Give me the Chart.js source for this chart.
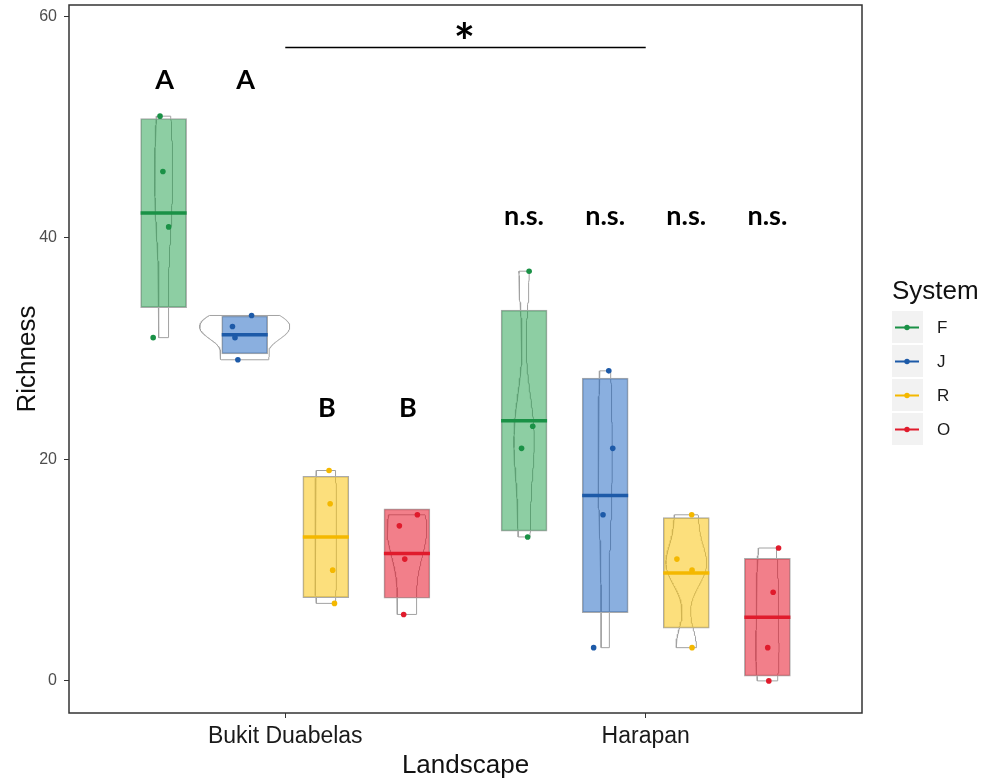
<!DOCTYPE html>
<html>
<head>
<meta charset="utf-8">
<script src="https://cdn.jsdelivr.net/npm/chart.js@4.4.0/dist/chart.umd.min.js"></script>
<style>
  html, body { margin: 0; padding: 0; background: #ffffff; }
  #wrap { width: 985px; height: 782px; }
</style>
</head>
<body>
<div id="wrap"><canvas id="c" width="985" height="782"></canvas></div>
<script>
// ---------------- data ----------------
const landscapes = ['Bukit Duabelas', 'Harapan'];
const systems = ['F', 'J', 'R', 'O'];
const systemColors = ['#1a9146', '#1d5aa8', '#f4b800', '#e01b2c'];
const systemFills = ['rgba(27,158,71,0.5)', 'rgba(22,96,192,0.5)', 'rgba(250,196,16,0.55)', 'rgba(232,22,42,0.55)'];

// richness per plot: [Bukit Duabelas, Harapan]
const richnessF = [[51, 46, 41, 31], [37, 23, 21, 13]];
const richnessJ = [[33, 32, 31, 29], [28, 21, 15, 3]];
const richnessR = [[19, 16, 10, 7], [15, 11, 10, 3]];
const richnessO = [[15, 14, 11, 6], [12, 8, 3, 0]];

// horizontal jitter of the plotted points (x units)
const jitterF = [[-0.010, -0.002, 0.014, -0.029], [0.014, 0.024, -0.007, 0.010]];
const jitterJ = [[0.019, -0.034, -0.027, -0.019], [0.010, 0.021, -0.006, -0.032]];
const jitterR = [[0.009, 0.012, 0.019, 0.024], [0.015, -0.026, 0.016, 0.016]];
const jitterO = [[0.029, -0.021, -0.006, -0.009], [0.031, 0.016, 0.001, 0.004]];

// box = mean +/- sd, line = mean
const meanF = [42.25, 23.50];
const meanJ = [31.25, 16.75];
const meanR = [13.00, 9.75];
const meanO = [11.50, 5.75];
const sdF = [8.54, 9.98];
const sdJ = [1.71, 10.59];
const sdR = [5.48, 4.99];
const sdO = [4.04, 5.32];

const yTickValues = [0, 20, 40, 60];

// significance labels
const lettersBD = ['A', 'A', 'B', 'B'];
const lettersBDy = [54.3, 54.3, 24.7, 24.7];
const lettersH = ['n.s.', 'n.s.', 'n.s.', 'n.s.'];
const lettersHy = [41.8, 41.8, 41.8, 41.8];
const sigStar = '*';
const sigStarY = 58.7;
const sigLineY = 57.25;

// ---------------- build ----------------
const richness = [richnessF, richnessJ, richnessR, richnessO];
const jitters = [jitterF, jitterJ, jitterR, jitterO];
const means = [meanF, meanJ, meanR, meanO];
const sds = [sdF, sdJ, sdR, sdO];
const DODGE = 0.225;
const VIOLIN_HALF = 0.125;
const slotX = (li, si) => li + 1 + (si - 1.5) * DODGE;

// gaussian kernel density (bw.nrd0), trimmed to the data range, like geom_violin
function quantile7(sorted, p) {
  const h = (sorted.length - 1) * p;
  const lo = Math.floor(h);
  return sorted[lo] + (h - lo) * ((sorted[lo + 1] ?? sorted[lo]) - sorted[lo]);
}
function kde(vals, n) {
  const s = [...vals].sort((a, b) => a - b);
  const m = s.reduce((a, b) => a + b, 0) / s.length;
  const sd = Math.sqrt(s.reduce((a, b) => a + (b - m) ** 2, 0) / (s.length - 1));
  const iqr = quantile7(s, 0.75) - quantile7(s, 0.25);
  const lo = Math.min(sd, iqr / 1.34);
  const bw = 0.9 * lo * Math.pow(s.length, -0.2);
  const out = [];
  for (let k = 0; k < n; k++) {
    const y = s[0] + (s[s.length - 1] - s[0]) * k / (n - 1);
    let d = 0;
    for (const v of s) { const z = (y - v) / bw; d += Math.exp(-0.5 * z * z) / Math.sqrt(2 * Math.PI); }
    out.push({ y, d: d / (s.length * bw) });
  }
  return out;
}
const dens = richness.map(r => r.map(v => kde(v, 120)));
let maxD = 0;
dens.forEach(a => a.forEach(g => g.forEach(p => { maxD = Math.max(maxD, p.d); })));

const datasets = [];
// points
systems.forEach((s, si) => {
  const data = [];
  richness[si].forEach((vals, li) => vals.forEach((v, k) => data.push({ x: slotX(li, si) + jitters[si][li][k], y: v })));
  datasets.push({
    type: 'scatter', label: s, data, order: 0, isPoints: true,
    pointRadius: 2.8, pointHoverRadius: 2.8, pointBackgroundColor: systemColors[si], pointBorderWidth: 0,
    color: systemColors[si]
  });
});
// mean lines
systems.forEach((s, si) => {
  datasets.push({
    type: 'scatter', label: s + ' mean', order: 1,
    data: means[si].map((m, li) => ({ x: slotX(li, si), y: m })),
    pointStyle: 'line', pointRadius: 23, pointHoverRadius: 23, pointBorderWidth: 3.5, pointBorderColor: systemColors[si]
  });
});
// boxes
systems.forEach((s, si) => {
  datasets.push({
    type: 'bar', label: s + ' box', order: 2, grouped: false,
    data: means[si].map((m, li) => ({ x: slotX(li, si), y: [m - sds[si][li], m + sds[si][li]] })),
    backgroundColor: systemFills[si], borderColor: '#ababab', borderWidth: 1, borderSkipped: false,
    barThickness: 46, maxBarThickness: 46
  });
});
// violins
systems.forEach((s, si) => {
  dens[si].forEach((g, li) => {
    const cx = slotX(li, si);
    const right = g.map(p => ({ x: cx + p.d / maxD * VIOLIN_HALF, y: p.y }));
    const left = g.slice().reverse().map(p => ({ x: cx - p.d / maxD * VIOLIN_HALF, y: p.y }));
    const poly = right.concat(left);
    poly.push(right[0]);
    datasets.push({
      type: 'scatter', label: s + ' violin', order: 3, data: poly, showLine: true,
      pointRadius: 0, pointHoverRadius: 0, borderColor: '#a2a2a2', borderWidth: 1, fill: false, tension: 0
    });
  });
});

const FONT = "'Liberation Sans', Arial, sans-serif";
const LETTER_FONT = "Lato, 'Open Sans', sans-serif";

function drawCentered(ctx, text, x, y) {
  const m = ctx.measureText(text);
  ctx.textAlign = 'center';
  ctx.textBaseline = 'alphabetic';
  ctx.fillText(text, x, y + (m.actualBoundingBoxAscent - m.actualBoundingBoxDescent) / 2);
}

const overlay = {
  id: 'overlay',
  afterDatasetsDraw(chart) {
    const { ctx, scales: { x, y } } = chart;
    ctx.save();
    ctx.fillStyle = '#000';
    ctx.font = 'bold 27px ' + LETTER_FONT;
    lettersBD.forEach((t, i) => drawCentered(ctx, t, x.getPixelForValue(slotX(0, i)) + 1, y.getPixelForValue(lettersBDy[i])));
    lettersH.forEach((t, i) => drawCentered(ctx, t, x.getPixelForValue(slotX(1, i)), y.getPixelForValue(lettersHy[i])));
    ctx.strokeStyle = '#000';
    ctx.lineWidth = 1.3;
    ctx.beginPath();
    const ly = Math.round(y.getPixelForValue(sigLineY)) + 0.5;
    ctx.moveTo(x.getPixelForValue(1), ly);
    ctx.lineTo(x.getPixelForValue(2), ly);
    ctx.stroke();
    ctx.font = 'bold 50px ' + LETTER_FONT;
    drawCentered(ctx, sigStar, x.getPixelForValue(1.5) - 1, y.getPixelForValue(sigStarY));
    ctx.restore();
  },
  afterDraw(chart) {
    const { ctx, chartArea: a } = chart;
    ctx.save();
    // panel border
    ctx.strokeStyle = '#333';
    ctx.lineWidth = 1.5;
    ctx.strokeRect(a.left, a.top, a.right - a.left, a.bottom - a.top);
    // legend
    ctx.fillStyle = '#111';
    ctx.font = '26px ' + FONT;
    ctx.textAlign = 'left';
    ctx.textBaseline = 'middle';
    ctx.fillText('System', 892, 292);
    const pts = chart.data.datasets.filter(d => d.isPoints);
    pts.forEach((d, i) => {
      const cy = 327 + i * 34;
      ctx.fillStyle = '#f2f2f2';
      ctx.fillRect(892, cy - 16, 31, 32);
      ctx.strokeStyle = d.color;
      ctx.lineWidth = 2;
      ctx.beginPath();
      ctx.moveTo(895, cy + 0.5);
      ctx.lineTo(919, cy + 0.5);
      ctx.stroke();
      ctx.fillStyle = d.color;
      ctx.beginPath();
      ctx.arc(907, cy + 0.5, 2.7, 0, Math.PI * 2);
      ctx.fill();
      ctx.fillStyle = '#1a1a1a';
      ctx.font = '17px ' + FONT;
      ctx.fillText(d.label, 937, cy + 1);
    });
    ctx.restore();
  }
};

Chart.defaults.font.family = FONT;

new Chart(document.getElementById('c'), {
  type: 'scatter',
  data: { datasets },
  plugins: [overlay],
  options: {
    responsive: false,
    animation: false,
    devicePixelRatio: 1,
    layout: { autoPadding: false, padding: { left: 0, top: 5, right: 123, bottom: 0 } },
    plugins: { legend: { display: false }, tooltip: { enabled: false } },
    scales: {
      x: {
        type: 'linear', min: 0.4, max: 2.6, offset: false,
        afterBuildTicks: s => { s.ticks = landscapes.map((_, i) => ({ value: i + 1 })); },
        afterFit: s => { s.height = 69; s.paddingLeft = 0; s.paddingRight = 0; },
        ticks: {
          autoSkip: false, maxRotation: 0, padding: 5,
          font: { size: 23 }, color: '#1a1a1a',
          callback: v => landscapes[Math.round(v) - 1]
        },
        grid: { display: true, offset: false, drawOnChartArea: false, drawTicks: true, tickLength: 5, tickColor: '#333', tickWidth: 1 },
        border: { display: false },
        title: { display: true, text: 'Landscape', font: { size: 26 }, color: '#111', padding: { top: 0, bottom: 1 } }
      },
      y: {
        type: 'linear', min: -2.9, max: 61.04,
        afterBuildTicks: s => { s.ticks = yTickValues.map(v => ({ value: v })); },
        afterFit: s => { s.width = 69; s.paddingTop = 0; s.paddingBottom = 0; },
        ticks: { padding: 7, font: { size: 16 }, color: '#4d4d4d' },
        grid: { display: true, offset: false, drawOnChartArea: false, drawTicks: true, tickLength: 5, tickColor: '#333', tickWidth: 1 },
        border: { display: false },
        title: { display: true, text: 'Richness', font: { size: 26 }, color: '#111', padding: { top: 12, bottom: 0 } }
      }
    }
  }
});
</script>
</body>
</html>
